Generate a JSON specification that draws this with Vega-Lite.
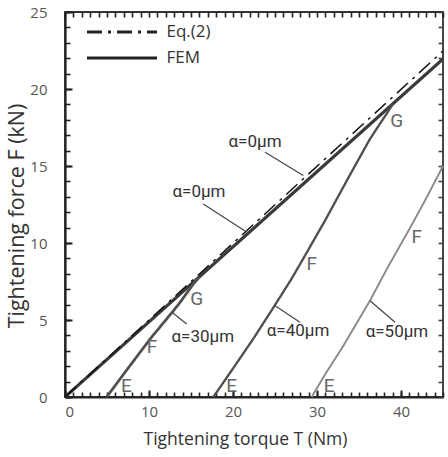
{
  "$schema": "https://vega.github.io/schema/vega-lite/v6.json",
  "width": 378,
  "height": 385,
  "padding": {"left": 6, "top": 5, "right": 5, "bottom": 4},
  "background": "white",
  "config": {
    "view": {"stroke": "#333", "strokeWidth": 1.8},
    "font": "Open Sans",
    "axis": {"grid": false, "labelFont": "Open Sans", "titleFont": "Open Sans", "zindex": 1, "tickRound": true}
  },
  "datasets": {
    "curves": [
      {"s": "a0", "type": "FEM", "T": 0, "F": 0},
      {"s": "a0", "type": "FEM", "T": 45, "F": 21.95},
      {"s": "a30", "type": "FEM", "T": 4.96, "F": 0},
      {"s": "a30", "type": "FEM", "T": 7, "F": 1.5},
      {"s": "a30", "type": "FEM", "T": 9, "F": 2.95},
      {"s": "a30", "type": "FEM", "T": 10.3, "F": 3.88},
      {"s": "a30", "type": "FEM", "T": 12, "F": 5.0},
      {"s": "a30", "type": "FEM", "T": 13.5, "F": 6.0},
      {"s": "a30", "type": "FEM", "T": 14.5, "F": 6.75},
      {"s": "a30", "type": "FEM", "T": 15.3, "F": 7.35},
      {"s": "a30", "type": "FEM", "T": 16, "F": 7.8},
      {"s": "a40", "type": "FEM", "T": 17.66, "F": 0},
      {"s": "a40", "type": "FEM", "T": 20, "F": 1.85},
      {"s": "a40", "type": "FEM", "T": 22.5, "F": 3.85},
      {"s": "a40", "type": "FEM", "T": 24.8, "F": 5.8},
      {"s": "a40", "type": "FEM", "T": 27, "F": 7.7},
      {"s": "a40", "type": "FEM", "T": 28.8, "F": 9.4},
      {"s": "a40", "type": "FEM", "T": 31, "F": 11.5},
      {"s": "a40", "type": "FEM", "T": 33.9, "F": 14.4},
      {"s": "a40", "type": "FEM", "T": 36.3, "F": 16.75},
      {"s": "a40", "type": "FEM", "T": 37.5, "F": 17.75},
      {"s": "a40", "type": "FEM", "T": 38.3, "F": 18.4},
      {"s": "a40", "type": "FEM", "T": 39, "F": 19.0},
      {"s": "a50", "type": "FEM", "T": 29.36, "F": 0},
      {"s": "a50", "type": "FEM", "T": 31, "F": 1.5},
      {"s": "a50", "type": "FEM", "T": 33, "F": 3.2},
      {"s": "a50", "type": "FEM", "T": 36.3, "F": 6.25},
      {"s": "a50", "type": "FEM", "T": 38.5, "F": 8.5},
      {"s": "a50", "type": "FEM", "T": 41, "F": 10.9},
      {"s": "a50", "type": "FEM", "T": 43, "F": 12.9},
      {"s": "a50", "type": "FEM", "T": 45, "F": 15.0},
      {"s": "eq", "type": "Eq.(2)", "T": 0, "F": 0},
      {"s": "eq", "type": "Eq.(2)", "T": 45, "F": 22.47}
    ],
    "leaders": [
      {"T": 23.81, "F": 15.89, "T2": 28.37, "F2": 14.38},
      {"T": 16.46, "F": 12.53, "T2": 21.43, "F2": 10.78},
      {"T": 12.7, "F": 5.52, "T2": 14.49, "F2": 4.74},
      {"T": 25.0, "F": 5.93, "T2": 27.98, "F2": 4.85},
      {"T": 36.31, "F": 6.25, "T2": 39.29, "F2": 4.85}
    ],
    "alphas": [
      {"label": "α=0μm", "T": 22.62, "F": 16.54},
      {"label": "α=0μm", "T": 15.95, "F": 13.29},
      {"label": "α=30μm", "T": 16.4, "F": 3.9},
      {"label": "α=40μm", "T": 27.74, "F": 4.31},
      {"label": "α=50μm", "T": 39.52, "F": 4.24}
    ],
    "points": [
      {"label": "E", "T": 7.32, "F": 0.73},
      {"label": "F", "T": 10.36, "F": 3.25},
      {"label": "G", "T": 15.68, "F": 6.36},
      {"label": "E", "T": 19.85, "F": 0.73},
      {"label": "F", "T": 29.37, "F": 8.64},
      {"label": "G", "T": 39.49, "F": 17.94},
      {"label": "E", "T": 31.46, "F": 0.73},
      {"label": "F", "T": 41.87, "F": 10.37}
    ]
  },
  "resolve": {"axis": {"x": "independent", "y": "independent"}},
  "layer": [
    {
      "data": {"name": "curves"},
      "mark": {"type": "line", "strokeCap": "butt"},
      "encoding": {
        "x": {
          "field": "T", "type": "quantitative",
          "scale": {"domain": [0, 45], "nice": false, "zero": false},
          "axis": {
            "orient": "bottom", "values": [0, 10, 20, 30, 40],
            "tickSize": -7, "tickWidth": 2, "tickColor": "#222",
            "domainColor": "#222", "domainWidth": 2.2,
            "labelPadding": 14, "labelFontSize": 15, "labelColor": "#555",
            "title": "Tightening torque T (Nm)", "titleFontSize": 17.5, "titleColor": "#333",
            "titleFontWeight": "normal", "titleBaseline": "middle", "titleX": 180, "titleY": 42
          }
        },
        "y": {
          "field": "F", "type": "quantitative",
          "scale": {"domain": [0, 25], "nice": false, "zero": false},
          "axis": {
            "orient": "left", "values": [0, 5, 10, 15, 20, 25],
            "tickSize": -7, "tickWidth": 2, "tickColor": "#222",
            "domainColor": "#222", "domainWidth": 2.2,
            "labelPadding": 25, "labelFontSize": 15, "labelColor": "#555",
            "title": "Tightening force F (kN)", "titleFontSize": 21.5, "titleColor": "#333",
            "titleFontWeight": "normal", "titleBaseline": "middle", "titleAngle": 270,
            "titleX": -48, "titleY": 203.5
          }
        },
        "detail": {"field": "s"},
        "color": {
          "field": "s", "type": "nominal", "legend": null,
          "scale": {"domain": ["a0", "a30", "a40", "a50", "eq"], "range": ["#3a3a3a", "#505050", "#505050", "#8a8a8a", "#111111"]}
        },
        "strokeWidth": {
          "field": "s", "type": "ordinal", "legend": null,
          "scale": {"domain": ["a0", "a30", "a40", "a50", "eq"], "range": [3.2, 1.5, 1.5, 1.5, 2.2]}
        },
        "strokeDash": {
          "field": "type", "type": "nominal",
          "scale": {"domain": ["Eq.(2)", "FEM"], "range": [[15, 6, 3, 6], [1, 0]]},
          "legend": {
            "title": null, "orient": "none", "legendX": 48.5, "legendY": 11.5,
            "padding": 0, "symbolType": "M-5,0H5", "symbolSize": 196,
            "symbolStrokeWidth": 2.8, "symbolStrokeColor": "#222",
            "labelFont": "Open Sans", "labelFontSize": 17, "labelColor": "#333",
            "labelOffset": 36, "rowPadding": 8
          }
        }
      }
    },
    {
      "data": {"name": "leaders"},
      "mark": {"type": "rule", "stroke": "#444", "strokeWidth": 1.2},
      "encoding": {
        "x": {
          "field": "T", "type": "quantitative",
          "axis": {
            "orient": "bottom", "values": [0,1,2,3,4,5,6,7,8,9,10,11,12,13,14,15,16,17,18,19,20,21,22,23,24,25,26,27,28,29,30,31,32,33,34,35,36,37,38,39,40,41,42,43,44,45],
            "labels": false, "domain": false, "title": null,
            "tickSize": -5, "tickWidth": 1.6, "tickColor": "#222"
          }
        },
        "y": {
          "field": "F", "type": "quantitative",
          "axis": {
            "orient": "left", "values": [0,1,2,3,4,5,6,7,8,9,10,11,12,13,14,15,16,17,18,19,20,21,22,23,24,25],
            "labels": false, "domain": false, "title": null,
            "tickSize": -5, "tickWidth": 1.6, "tickColor": "#222"
          }
        },
        "x2": {"field": "T2"},
        "y2": {"field": "F2"}
      }
    },
    {
      "data": {"name": "alphas"},
      "mark": {"type": "text", "font": "Roboto", "fontSize": 17, "color": "#333", "align": "center", "baseline": "middle"},
      "encoding": {
        "x": {
          "field": "T", "type": "quantitative",
          "axis": {
            "orient": "top", "values": [0,1,2,3,4,5,6,7,8,9,10,11,12,13,14,15,16,17,18,19,20,21,22,23,24,25,26,27,28,29,30,31,32,33,34,35,36,37,38,39,40,41,42,43,44,45],
            "labels": false, "domain": false, "title": null,
            "tickSize": -5, "tickWidth": 1.6, "tickColor": "#222"
          }
        },
        "y": {
          "field": "F", "type": "quantitative",
          "axis": {
            "orient": "right", "values": [0,1,2,3,4,5,6,7,8,9,10,11,12,13,14,15,16,17,18,19,20,21,22,23,24,25],
            "labels": false, "domain": false, "title": null,
            "tickSize": -5, "tickWidth": 1.6, "tickColor": "#444"
          }
        },
        "text": {"field": "label"}
      }
    },
    {
      "data": {"name": "points"},
      "mark": {"type": "text", "font": "Roboto", "fontSize": 19, "color": "#666", "align": "center", "baseline": "middle"},
      "encoding": {
        "x": {"field": "T", "type": "quantitative", "axis": null},
        "y": {"field": "F", "type": "quantitative", "axis": null},
        "text": {"field": "label"}
      }
    }
  ]
}
